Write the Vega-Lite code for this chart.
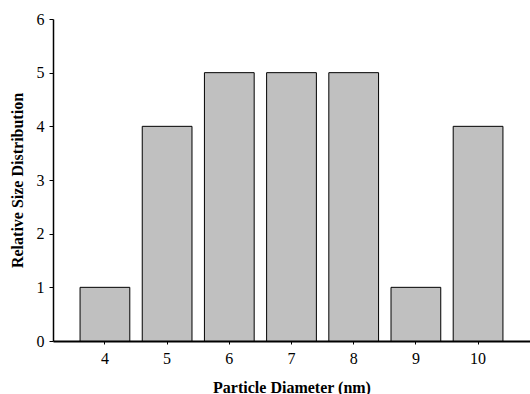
{
  "$schema": "https://vega.github.io/schema/vega-lite/v6.json",
  "autosize": "none",
  "width": 477,
  "height": 322,
  "padding": {"left": 53, "top": 19, "right": 0, "bottom": 53},
  "background": "white",
  "data": {"values": [
    {"d": "4", "v": 1}, {"d": "5", "v": 4}, {"d": "6", "v": 5}, {"d": "7", "v": 5},
    {"d": "8", "v": 5}, {"d": "9", "v": 1}, {"d": "10", "v": 4}
  ]},
  "mark": {"type": "bar", "fill": "#c0c0c0", "stroke": "black", "strokeWidth": 1},
  "encoding": {
    "x": {"field": "d", "type": "ordinal", "sort": null,
      "scale": {"paddingInner": 0.2, "paddingOuter": 0.435},
      "axis": {"title": "Particle Diameter (nm)", "labelAngle": 0, "domainWidth": 2, "domainColor": "black",
        "tickColor": "black", "tickSize": 3, "labelPadding": 6, "titlePadding": 13,
        "labelFont": "Liberation Serif", "labelFontSize": 16, "labelColor": "black",
        "titleFont": "Liberation Serif", "titleFontSize": 16, "titleFontWeight": "bold", "titleColor": "black"}},
    "y": {"field": "v", "type": "quantitative",
      "scale": {"domain": [0, 6], "nice": false},
      "axis": {"title": "Relative Size Distribution", "tickCount": 6, "grid": false, "domainWidth": 1.5,
        "domainColor": "black", "tickColor": "black", "tickSize": 4, "labelPadding": 5, "titlePadding": 11,
        "labelFont": "Liberation Serif", "labelFontSize": 16, "labelColor": "black",
        "titleFont": "Liberation Serif", "titleFontSize": 16, "titleFontWeight": "bold", "titleColor": "black"}}
  },
  "config": {
    "view": {"stroke": null}
  }
}
